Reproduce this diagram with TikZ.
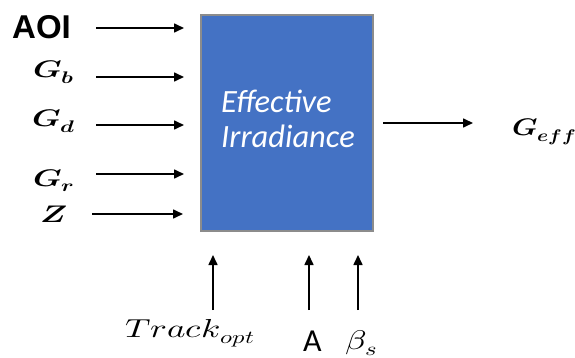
\documentclass[tikz,border=0pt]{standalone}
\usepackage{fontspec}
\usepackage{unicode-math}
\setmathfont{Latin Modern Math}
\setsansfont{Carlito}
\newfontfamily\arialfont{Liberation Sans}
\usetikzlibrary{arrows.meta}
\definecolor{boxblue}{HTML}{4472C4}
\definecolor{boxedge}{HTML}{8C8C8C}
\newcommand{\wide}[2]{\scalebox{#1}[1]{#2}}
\begin{document}
\begin{tikzpicture}[x=1pt,y=-1pt,
  arr/.style={line width=1.6pt,-{Triangle[length=10pt,width=9pt]}},
  lbl/.style={inner sep=0pt,anchor=base west,font=\fontsize{24}{26}\selectfont},
  proc/.style={draw=boxedge,line width=1.8pt,fill=boxblue},
  intext/.style={inner sep=0pt,anchor=base west,text=white,font=\sffamily\itshape\fontsize{32.5}{34}\selectfont}]
\useasboundingbox (0,0) rectangle (575,358);
\node[proc,minimum width=172pt,minimum height=216pt,anchor=north west] (box) at (200,14) {};
\node[intext] (t1) at (221,113) {Effective};
\node[intext] (t2) at (221,148) {Irradiance};
% left inputs
\node[inner sep=0pt,anchor=base west,font=\arialfont\bfseries\fontsize{33}{36}\selectfont] (aoi) at (12,39) {AOI};
\node[lbl] (gb) at (33,78) {\wide{1.35}{$\symbfit{G}_{\symbfit{b}}$}};
\node[lbl] (gd) at (32,127) {\wide{1.35}{$\symbfit{G}_{\symbfit{d}}$}};
\node[lbl] (gr) at (33,186) {\wide{1.35}{$\symbfit{G}_{\symbfit{r}}$}};
\node[lbl] (z) at (40,222) {\wide{1.35}{$\symbfit{Z}$}};
\coordinate (a1) at (96,28); \coordinate (b1) at (184,28);
\coordinate (a2) at (96,77); \coordinate (b2) at (184,77);
\coordinate (a3) at (96,125); \coordinate (b3) at (184,125);
\coordinate (a4) at (96,174); \coordinate (b4) at (184,174);
\coordinate (a5) at (92,214); \coordinate (b5) at (183,214);
\draw[arr] (a1) -- (b1);
\draw[arr] (a2) -- (b2);
\draw[arr] (a3) -- (b3);
\draw[arr] (a4) -- (b4);
\draw[arr] (a5) -- (b5);
% output
\coordinate (o1) at (383,123); \coordinate (o2) at (473,123);
\draw[arr] (o1) -- (o2);
\node[lbl] (geff) at (512,136) {\wide{1.2}{$\symbfit{G}_{\symbfit{eff}}$}};
% bottom inputs
\coordinate (c1) at (213,310); \coordinate (d1) at (213,255);
\coordinate (c2) at (309,310); \coordinate (d2) at (309,255);
\coordinate (c3) at (358,310); \coordinate (d3) at (358,255);
\draw[arr] (c1) -- (d1);
\draw[arr] (c2) -- (d2);
\draw[arr] (c3) -- (d3);
\node[lbl,font=\fontsize{26}{28}\selectfont] (track) at (125,337) {\wide{1.35}{$Track_{opt}$}};
\node[inner sep=0pt,anchor=base west,font=\sffamily\fontsize{32}{34}\selectfont] (A) at (303,351) {A};
\node[lbl,font=\fontsize{27}{30}\selectfont] (beta) at (345,349) {\wide{1.3}{$\beta_s$}};
\end{tikzpicture}
\end{document}
